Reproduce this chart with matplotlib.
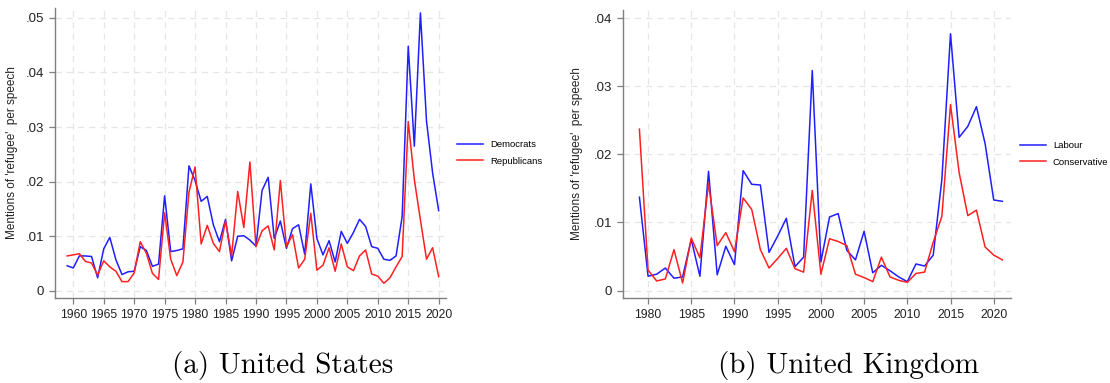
import matplotlib
matplotlib.use("Agg")
import matplotlib.pyplot as plt
from matplotlib.ticker import FuncFormatter

# United States
us_years = list(range(1959, 2021))
us_dem = [0.0046, 0.0042, 0.0064, 0.0064, 0.0063, 0.0024, 0.0077, 0.0098, 0.0057, 0.0030,
          0.0035, 0.0036, 0.0081, 0.0074, 0.0045, 0.0049, 0.0174, 0.0072, 0.0074, 0.0077,
          0.0229, 0.0202, 0.0164, 0.0173, 0.0121, 0.0090, 0.0131, 0.0055, 0.0100, 0.0101,
          0.0093, 0.0082, 0.0184, 0.0208, 0.0096, 0.0128, 0.0078, 0.0114, 0.0121, 0.0067,
          0.0196, 0.0096, 0.0066, 0.0092, 0.0053, 0.0109, 0.0087, 0.0107, 0.0131, 0.0118,
          0.0081, 0.0078, 0.0058, 0.0056, 0.0064, 0.0136, 0.0448, 0.0265, 0.0509, 0.0311,
          0.0216, 0.0147]
us_rep = [0.0064, 0.0066, 0.0068, 0.0054, 0.0051, 0.0029, 0.0055, 0.0044, 0.0036, 0.0017,
          0.0017, 0.0033, 0.0090, 0.0069, 0.0032, 0.0021, 0.0143, 0.0058, 0.0028, 0.0053,
          0.0181, 0.0227, 0.0086, 0.0120, 0.0087, 0.0072, 0.0128, 0.0064, 0.0182, 0.0116,
          0.0236, 0.0081, 0.0110, 0.0119, 0.0075, 0.0202, 0.0081, 0.0103, 0.0042, 0.0058,
          0.0142, 0.0038, 0.0047, 0.0079, 0.0036, 0.0086, 0.0044, 0.0037, 0.0064, 0.0075,
          0.0031, 0.0027, 0.0014, 0.0024, 0.0044, 0.0063, 0.0310, 0.0204, 0.0130, 0.0058,
          0.0079, 0.0026]

# United Kingdom
uk_years = list(range(1979, 2022))
uk_lab = [0.0137, 0.0021, 0.0024, 0.0033, 0.0018, 0.0020, 0.0075, 0.0021, 0.0175, 0.0023,
          0.0065, 0.0038, 0.0176, 0.0156, 0.0155, 0.0056, 0.0080, 0.0106, 0.0035, 0.0049,
          0.0323, 0.0042, 0.0108, 0.0113, 0.0059, 0.0045, 0.0087, 0.0026, 0.0037, 0.0029,
          0.0020, 0.0013, 0.0039, 0.0036, 0.0052, 0.0163, 0.0377, 0.0225, 0.0241, 0.0270,
          0.0216, 0.0133, 0.0131]
uk_con = [0.0237, 0.0030, 0.0014, 0.0017, 0.0060, 0.0011, 0.0077, 0.0048, 0.0157, 0.0066,
          0.0085, 0.0057, 0.0136, 0.0119, 0.0060, 0.0033, 0.0047, 0.0062, 0.0032, 0.0027,
          0.0147, 0.0024, 0.0076, 0.0072, 0.0066, 0.0024, 0.0019, 0.0013, 0.0049, 0.0020,
          0.0015, 0.0012, 0.0025, 0.0027, 0.0071, 0.0109, 0.0273, 0.0173, 0.0110, 0.0118,
          0.0064, 0.0052, 0.0045]

plt.rcParams['font.family'] = ['Liberation Sans', 'DejaVu Sans']

fig = plt.figure(figsize=(11.1, 3.83), dpi=100)


def fmt(v, pos):
    if abs(v) < 1e-12:
        return "0"
    return ("%.2f" % v).lstrip("0")


def style(ax, yticks, xticks, ylab_x):
    for s in ["top", "right"]:
        ax.spines[s].set_visible(False)
    for s in ["left", "bottom"]:
        ax.spines[s].set_color("#7f7f7f")
        ax.spines[s].set_linewidth(1.0)
    ax.set_yticks(yticks)
    ax.set_xticks(xticks)
    ax.yaxis.set_major_formatter(FuncFormatter(fmt))
    ax.grid(True, color="#e6e6e6", linestyle=(0, (5, 4)), linewidth=0.9)
    ax.set_axisbelow(True)
    ax.tick_params(axis="both", colors="#7f7f7f", labelcolor="#222222",
                   length=4, width=0.9, pad=4)
    ax.tick_params(axis="y", labelsize=9.5)
    ax.tick_params(axis="x", labelsize=8.8)
    ax.set_ylabel("Mentions of 'refugee'  per speech", fontsize=8.5, color="#222222")
    ax.yaxis.set_label_coords(ylab_x, 0.5)


def add_legend(ax, xa):
    ax.legend(loc="center left", bbox_to_anchor=(xa, 0.5), frameon=False, fontsize=6.8,
              handlelength=2.8, handletextpad=0.7, labelspacing=0.8, borderaxespad=0.0)


# 左パネル
ax1 = fig.add_axes([55 / 1110, 1 - 298 / 383, 391 / 1110, 290 / 383])
ax1.plot(us_years, us_dem, color="#1f1fff", lw=1.1, label="Democrats")
ax1.plot(us_years, us_rep, color="#ff2020", lw=1.1, label="Republicans")
ax1.set_xlim(1957.0, 2021.2)
ax1.set_ylim(-0.0013, 0.0518)
style(ax1, [0, 0.01, 0.02, 0.03, 0.04, 0.05], list(range(1960, 2021, 5)), -0.095)
add_legend(ax1, 1.018)

# 右パネル
ax2 = fig.add_axes([623 / 1110, 1 - 298 / 383, 388 / 1110, 288 / 383])
ax2.plot(uk_years, uk_lab, color="#1f1fff", lw=1.1, label="Labour")
ax2.plot(uk_years, uk_con, color="#ff2020", lw=1.1, label="Conservative")
ax2.set_xlim(1977.1, 2022.0)
ax2.set_ylim(-0.0011, 0.0412)
style(ax2, [0, 0.01, 0.02, 0.03, 0.04], list(range(1980, 2021, 5)), -0.103)
add_legend(ax2, 1.013)

# キャプション
fig.text(283 / 1110, 1 - 366 / 383, "(a) United States", fontsize=21, family="cmr10",
         ha="center", va="center")
fig.text(849 / 1110, 1 - 366 / 383, "(b) United Kingdom", fontsize=21, family="cmr10",
         ha="center", va="center")

fig.savefig("out.png", dpi=100)
